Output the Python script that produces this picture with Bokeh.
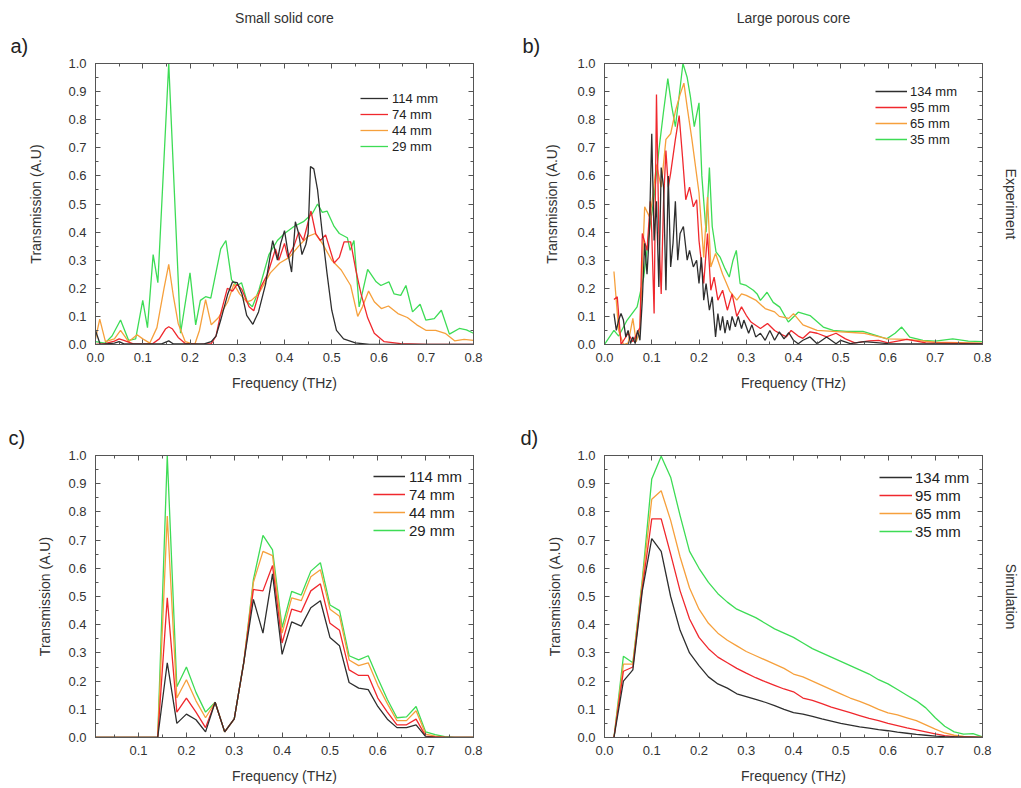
from bokeh.plotting import figure
from bokeh.models import (LinearAxis, FixedTicker, PrintfTickFormatter, Title,
                          Legend, LegendItem, Range1d)
from bokeh.layouts import column, row
from bokeh.embed import file_html
from bokeh.resources import INLINE

FONT = "Liberation Sans"
C_BLACK, C_RED, C_ORANGE, C_GREEN = "#2e2e2e", "#f0282d", "#f6a03c", "#3ddc55"
AX = "#555555"
TXT = "#333333"

# ---------------- data ----------------
# Panel a: experiment, small solid core  (frequency THz, transmission)
a_114 = [(0.0, 0.05), (0.01, 0.0), (0.04, 0.005), (0.05, 0.01), (0.06, 0.002), (0.14, 0.002),
         (0.155, 0.013), (0.165, 0.002), (0.23, 0.002), (0.245, 0.01), (0.255, 0.03), (0.265, 0.087),
         (0.28, 0.18), (0.29, 0.223), (0.3, 0.22), (0.31, 0.18), (0.32, 0.104), (0.333, 0.072),
         (0.345, 0.116), (0.36, 0.215), (0.375, 0.37), (0.385, 0.3), (0.392, 0.36), (0.4, 0.405),
         (0.41, 0.3), (0.415, 0.258), (0.423, 0.437), (0.43, 0.395), (0.437, 0.32), (0.445, 0.355),
         (0.45, 0.395), (0.455, 0.633), (0.462, 0.625), (0.47, 0.55), (0.48, 0.395), (0.49, 0.253),
         (0.5, 0.122), (0.51, 0.05), (0.525, 0.02), (0.55, 0.006), (0.58, 0.0), (0.8, 0.0)]
a_74 = [(0.0, 0.0), (0.02, 0.003), (0.04, 0.012), (0.05, 0.02), (0.06, 0.015), (0.08, 0.002),
        (0.12, 0.002), (0.135, 0.02), (0.148, 0.055), (0.155, 0.063), (0.163, 0.055), (0.175, 0.025),
        (0.19, 0.004), (0.22, 0.0), (0.245, 0.003), (0.255, 0.03), (0.265, 0.11), (0.279, 0.2),
        (0.29, 0.19), (0.3, 0.215), (0.31, 0.195), (0.325, 0.134), (0.335, 0.12), (0.35, 0.205),
        (0.364, 0.25), (0.381, 0.34), (0.388, 0.3), (0.4, 0.36), (0.407, 0.31), (0.42, 0.35),
        (0.43, 0.4), (0.44, 0.37), (0.456, 0.475), (0.466, 0.395), (0.476, 0.37), (0.487, 0.39),
        (0.505, 0.29), (0.516, 0.31), (0.526, 0.365), (0.54, 0.365), (0.551, 0.265), (0.562, 0.18),
        (0.576, 0.095), (0.59, 0.04), (0.611, 0.01), (0.646, 0.003), (0.7, 0.0), (0.8, 0.0)]
a_44 = [(0.0, 0.02), (0.009, 0.09), (0.021, 0.01), (0.04, 0.02), (0.053, 0.05), (0.07, 0.01),
        (0.088, 0.035), (0.1, 0.02), (0.115, 0.005), (0.13, 0.06), (0.145, 0.2), (0.155, 0.285),
        (0.165, 0.17), (0.175, 0.075), (0.19, 0.01), (0.21, 0.0), (0.22, 0.05), (0.233, 0.16),
        (0.245, 0.07), (0.26, 0.095), (0.28, 0.152), (0.293, 0.215), (0.305, 0.18), (0.32, 0.152),
        (0.33, 0.157), (0.345, 0.18), (0.37, 0.255), (0.39, 0.29), (0.41, 0.31), (0.43, 0.35),
        (0.45, 0.385), (0.465, 0.395), (0.48, 0.36), (0.5, 0.3), (0.52, 0.265), (0.54, 0.21),
        (0.555, 0.1), (0.565, 0.134), (0.578, 0.19), (0.59, 0.152), (0.605, 0.128), (0.62, 0.137),
        (0.64, 0.11), (0.66, 0.096), (0.68, 0.07), (0.7, 0.05), (0.72, 0.05), (0.74, 0.04),
        (0.76, 0.013), (0.78, 0.018), (0.8, 0.015)]
a_29 = [(0.0, 0.01), (0.02, 0.005), (0.035, 0.03), (0.053, 0.087), (0.07, 0.015), (0.085, 0.02),
        (0.1, 0.157), (0.11, 0.06), (0.122, 0.32), (0.132, 0.22), (0.155, 1.0), (0.18, 0.04),
        (0.2, 0.255), (0.212, 0.07), (0.222, 0.157), (0.233, 0.17), (0.244, 0.165), (0.265, 0.34),
        (0.276, 0.37), (0.288, 0.23), (0.3, 0.21), (0.309, 0.22), (0.321, 0.152), (0.332, 0.134),
        (0.346, 0.195), (0.367, 0.32), (0.385, 0.37), (0.4, 0.395), (0.42, 0.42), (0.44, 0.437),
        (0.459, 0.466), (0.47, 0.5), (0.48, 0.47), (0.49, 0.475), (0.505, 0.42), (0.516, 0.395),
        (0.533, 0.38), (0.539, 0.335), (0.547, 0.37), (0.558, 0.134), (0.576, 0.267), (0.594, 0.223),
        (0.604, 0.21), (0.621, 0.223), (0.632, 0.18), (0.646, 0.175), (0.657, 0.21), (0.671, 0.116),
        (0.687, 0.143), (0.699, 0.087), (0.717, 0.092), (0.732, 0.122), (0.749, 0.037), (0.77, 0.057),
        (0.785, 0.052), (0.8, 0.04)]

# Panel b: experiment, large porous core
b_134 = [(0.02, 0.11), (0.025, 0.05), (0.03, 0.087), (0.035, 0.11), (0.04, 0.087), (0.045, 0.027),
         (0.05, 0.05), (0.055, 0.003), (0.06, 0.027), (0.065, 0.003), (0.07, 0.05), (0.075, 0.015),
         (0.08, 0.158), (0.085, 0.36), (0.09, 0.25), (0.095, 0.4), (0.1, 0.75), (0.105, 0.37),
         (0.11, 0.51), (0.115, 0.205), (0.12, 0.63), (0.125, 0.56), (0.13, 0.193), (0.135, 0.6),
         (0.14, 0.276), (0.145, 0.36), (0.15, 0.51), (0.155, 0.3), (0.16, 0.395), (0.167, 0.42),
         (0.175, 0.3), (0.18, 0.335), (0.188, 0.276), (0.195, 0.3), (0.2, 0.217), (0.205, 0.31),
         (0.21, 0.158), (0.215, 0.217), (0.222, 0.122), (0.228, 0.17), (0.235, 0.027), (0.24, 0.11),
         (0.245, 0.05), (0.25, 0.1), (0.255, 0.04), (0.26, 0.087), (0.265, 0.05), (0.27, 0.1),
         (0.277, 0.063), (0.283, 0.1), (0.29, 0.057), (0.295, 0.087), (0.305, 0.04), (0.312, 0.07),
         (0.32, 0.027), (0.33, 0.04), (0.34, 0.015), (0.35, 0.05), (0.36, 0.015), (0.37, 0.045),
         (0.38, 0.02), (0.39, 0.042), (0.4, 0.015), (0.41, 0.003), (0.42, 0.015), (0.435, 0.027),
         (0.45, 0.003), (0.47, 0.027), (0.49, 0.003), (0.5, 0.015), (0.52, 0.003), (0.55, 0.01),
         (0.6, 0.003), (0.8, 0.002)]
b_95 = [(0.02, 0.16), (0.027, 0.17), (0.035, 0.0), (0.05, 0.04), (0.06, 0.01), (0.075, 0.06),
        (0.08, 0.395), (0.09, 0.335), (0.097, 0.51), (0.1, 0.4), (0.105, 0.11), (0.11, 0.89),
        (0.115, 0.4), (0.12, 0.18), (0.125, 0.51), (0.13, 0.69), (0.135, 0.56), (0.14, 0.61),
        (0.15, 0.73), (0.158, 0.815), (0.165, 0.67), (0.172, 0.515), (0.18, 0.56), (0.188, 0.49),
        (0.195, 0.515), (0.2, 0.37), (0.21, 0.217), (0.218, 0.395), (0.225, 0.193), (0.232, 0.24),
        (0.24, 0.158), (0.25, 0.193), (0.26, 0.122), (0.27, 0.18), (0.28, 0.1), (0.29, 0.134),
        (0.3, 0.104), (0.31, 0.08), (0.33, 0.057), (0.345, 0.075), (0.36, 0.05), (0.37, 0.04),
        (0.385, 0.027), (0.395, 0.05), (0.41, 0.03), (0.42, 0.022), (0.435, 0.045), (0.45, 0.04),
        (0.47, 0.027), (0.49, 0.04), (0.51, 0.02), (0.53, 0.006), (0.56, 0.013), (0.58, 0.015),
        (0.6, 0.006), (0.64, 0.018), (0.68, 0.006), (0.8, 0.003)]
b_65 = [(0.02, 0.26), (0.03, 0.05), (0.04, 0.0), (0.05, 0.005), (0.06, 0.093), (0.067, 0.01),
        (0.075, 0.05), (0.085, 0.49), (0.095, 0.455), (0.1, 0.5), (0.11, 0.64), (0.12, 0.56),
        (0.13, 0.73), (0.14, 0.75), (0.15, 0.83), (0.16, 0.89), (0.168, 0.93), (0.175, 0.845),
        (0.185, 0.73), (0.2, 0.54), (0.21, 0.31), (0.218, 0.525), (0.225, 0.276), (0.235, 0.324),
        (0.25, 0.25), (0.265, 0.19), (0.28, 0.158), (0.29, 0.18), (0.3, 0.175), (0.32, 0.158),
        (0.34, 0.128), (0.36, 0.116), (0.37, 0.1), (0.39, 0.093), (0.4, 0.11), (0.42, 0.07),
        (0.45, 0.05), (0.5, 0.045), (0.55, 0.04), (0.6, 0.02), (0.64, 0.018), (0.7, 0.008), (0.8, 0.005)]
b_35 = [(0.0, 0.0), (0.02, 0.05), (0.03, 0.03), (0.048, 0.087), (0.069, 0.134), (0.083, 0.24),
        (0.094, 0.395), (0.104, 0.51), (0.115, 0.69), (0.125, 0.83), (0.134, 0.946), (0.142, 0.85),
        (0.15, 0.775), (0.157, 0.87), (0.166, 1.0), (0.175, 0.95), (0.182, 0.88), (0.19, 0.775),
        (0.2, 0.86), (0.206, 0.6), (0.215, 0.4), (0.222, 0.63), (0.228, 0.42), (0.236, 0.33),
        (0.245, 0.31), (0.255, 0.27), (0.264, 0.24), (0.272, 0.3), (0.279, 0.335), (0.287, 0.217),
        (0.3, 0.21), (0.315, 0.193), (0.323, 0.18), (0.33, 0.157), (0.344, 0.186), (0.357, 0.15),
        (0.371, 0.133), (0.389, 0.08), (0.41, 0.115), (0.435, 0.103), (0.463, 0.062), (0.484, 0.05),
        (0.512, 0.047), (0.547, 0.047), (0.576, 0.032), (0.597, 0.02), (0.615, 0.04), (0.629, 0.062),
        (0.646, 0.026), (0.674, 0.015), (0.7, 0.012), (0.737, 0.02), (0.77, 0.012), (0.8, 0.01)]

# Panel c: simulation, small solid core
c_freq = [0.0, 0.02, 0.04, 0.06, 0.08, 0.1, 0.12, 0.14, 0.16, 0.18, 0.2, 0.22, 0.24, 0.26, 0.28,
          0.3, 0.32, 0.34, 0.36, 0.38, 0.4, 0.42, 0.44, 0.46, 0.48, 0.5, 0.52, 0.54, 0.56, 0.58,
          0.6, 0.62, 0.64, 0.66, 0.68, 0.7, 0.72, 0.74, 0.76, 0.78, 0.8]
c_114 = [0, 0, 0, 0, 0, 0, 0, 0, 0.265, 0.05, 0.083, 0.063, 0.02, 0.125, 0.02, 0.066, 0.267, 0.49,
         0.37, 0.58, 0.295, 0.41, 0.395, 0.46, 0.485, 0.355, 0.325, 0.195, 0.175, 0.17, 0.11, 0.065,
         0.035, 0.035, 0.045, 0.003, 0.0, 0.0, 0.0, 0.0, 0.0]
c_74 = [0, 0, 0, 0, 0, 0, 0, 0, 0.495, 0.09, 0.14, 0.09, 0.035, 0.125, 0.02, 0.066, 0.267, 0.525,
        0.52, 0.61, 0.335, 0.455, 0.445, 0.52, 0.545, 0.405, 0.38, 0.24, 0.22, 0.22, 0.14, 0.09,
        0.045, 0.045, 0.065, 0.005, 0.002, 0.0, 0.0, 0.0, 0.0]
c_44 = [0, 0, 0, 0, 0, 0, 0, 0, 0.785, 0.14, 0.205, 0.13, 0.07, 0.125, 0.02, 0.066, 0.267, 0.55,
        0.66, 0.645, 0.37, 0.495, 0.485, 0.57, 0.595, 0.455, 0.43, 0.275, 0.255, 0.265, 0.185, 0.12,
        0.06, 0.06, 0.095, 0.012, 0.005, 0.001, 0.0, 0.0, 0.0]
c_29 = [0, 0, 0, 0, 0, 0, 0, 0, 1.0, 0.18, 0.25, 0.16, 0.09, 0.125, 0.02, 0.066, 0.267, 0.56,
        0.717, 0.665, 0.39, 0.518, 0.505, 0.59, 0.62, 0.47, 0.45, 0.29, 0.275, 0.29, 0.21, 0.135,
        0.07, 0.073, 0.11, 0.02, 0.01, 0.003, 0.0, 0.0, 0.0]

# Panel d: simulation, large porous core
d_freq = [0.02, 0.04, 0.06, 0.08, 0.1, 0.12, 0.14, 0.16, 0.18, 0.2, 0.22, 0.24, 0.26, 0.28, 0.3,
          0.32, 0.34, 0.36, 0.38, 0.4, 0.42, 0.44, 0.46, 0.48, 0.5, 0.52, 0.54, 0.56, 0.58, 0.6,
          0.62, 0.64, 0.66, 0.68, 0.7, 0.72, 0.74, 0.76, 0.78, 0.8]
d_134 = [0, 0.2, 0.24, 0.52, 0.705, 0.66, 0.5, 0.38, 0.3, 0.255, 0.215, 0.19, 0.175, 0.155, 0.145,
         0.135, 0.125, 0.113, 0.1, 0.088, 0.083, 0.075, 0.066, 0.058, 0.05, 0.044, 0.038, 0.033,
         0.028, 0.024, 0.019, 0.015, 0.011, 0.008, 0.005, 0.003, 0.002, 0.001, 0.001, 0.0]
d_95 = [0, 0.235, 0.25, 0.53, 0.775, 0.775, 0.65, 0.52, 0.42, 0.355, 0.315, 0.285, 0.265, 0.245,
        0.228, 0.212, 0.198, 0.185, 0.172, 0.162, 0.14, 0.132, 0.12, 0.108, 0.098, 0.088, 0.078,
        0.068, 0.06, 0.05, 0.042, 0.034, 0.027, 0.02, 0.013, 0.007, 0.003, 0.002, 0.001, 0.0]
d_65 = [0, 0.26, 0.26, 0.55, 0.845, 0.875, 0.77, 0.64, 0.53, 0.455, 0.405, 0.37, 0.345, 0.325,
        0.305, 0.29, 0.275, 0.26, 0.245, 0.225, 0.215, 0.2, 0.185, 0.17, 0.155, 0.14, 0.128, 0.115,
        0.1, 0.087, 0.08, 0.07, 0.06, 0.045, 0.03, 0.016, 0.008, 0.004, 0.002, 0.0]
d_35 = [0, 0.288, 0.265, 0.56, 0.917, 0.997, 0.923, 0.787, 0.66, 0.6, 0.55, 0.51, 0.48, 0.455,
        0.44, 0.425, 0.405, 0.385, 0.37, 0.355, 0.335, 0.315, 0.3, 0.285, 0.27, 0.255, 0.24, 0.225,
        0.205, 0.19, 0.17, 0.15, 0.13, 0.105, 0.07, 0.04, 0.02, 0.012, 0.014, 0.002]

labels_small = ["114 mm", "74 mm", "44 mm", "29 mm"]
labels_large = ["134 mm", "95 mm", "65 mm", "35 mm"]
x_ticks_full = [0.0, 0.1, 0.2, 0.3, 0.4, 0.5, 0.6, 0.7, 0.8]
x_ticks_c = [0.1, 0.2, 0.3, 0.4, 0.5, 0.6, 0.7, 0.8]
x_minor = [0.05, 0.15, 0.25, 0.35, 0.45, 0.55, 0.65, 0.75]
y_ticks = [0.0, 0.1, 0.2, 0.3, 0.4, 0.5, 0.6, 0.7, 0.8, 0.9, 1.0]
y_minor = [0.05, 0.15, 0.25, 0.35, 0.45, 0.55, 0.65, 0.75, 0.85, 0.95]


def split(pairs):
    return [p[0] for p in pairs], [p[1] for p in pairs]


def style_axis(ax, ticks, minor, show_labels=True):
    ax.ticker = FixedTicker(ticks=ticks, minor_ticks=minor)
    ax.axis_line_color = AX
    ax.major_tick_line_color = AX
    ax.minor_tick_line_color = AX
    ax.major_tick_in = 5
    ax.major_tick_out = 0
    ax.minor_tick_in = 3
    ax.minor_tick_out = 0
    ax.major_label_text_font = FONT
    ax.major_label_text_font_size = "13px"
    ax.major_label_text_color = TXT
    ax.axis_label_text_font = FONT
    ax.axis_label_text_font_size = "14px"
    ax.axis_label_text_font_style = "normal"
    ax.axis_label_text_color = TXT
    if show_labels:
        ax.formatter = PrintfTickFormatter(format="%.1f")
    else:
        ax.major_label_overrides = {t: "" for t in ticks}
        ax.major_label_text_font_size = "0px"
        ax.major_label_standoff = 0


def make_panel(cfg, series, names):
    ox, oy, w, h = cfg["origin"][0], cfg["origin"][1], cfg["w"], cfg["h"]
    fl, ft, fr, fb = cfg["frame"]
    p = figure(width=w, height=h, x_range=Range1d(*cfg["xr"]), y_range=Range1d(0, 1),
               min_border_left=fl - ox, min_border_top=ft - oy,
               min_border_right=ox + w - fr, min_border_bottom=oy + h - fb,
               output_backend="svg", toolbar_location=None, tools="", title=None)
    p.xgrid.visible = False
    p.ygrid.visible = False
    p.outline_line_color = AX
    p.background_fill_color = "white"
    p.border_fill_color = "white"

    xt = cfg["xticks"]
    style_axis(p.xaxis[0], xt, x_minor)
    p.xaxis[0].axis_label = "Frequency (THz)"
    p.xaxis[0].major_label_standoff = 8
    p.xaxis[0].axis_label_standoff = 10
    style_axis(p.yaxis[0], y_ticks, y_minor)
    p.yaxis[0].axis_label = "Transmission (A.U)"
    p.yaxis[0].major_label_standoff = 9
    p.yaxis[0].axis_label_standoff = cfg["yas"]

    top = LinearAxis()
    style_axis(top, xt, x_minor, show_labels=False)
    p.add_layout(top, "above")
    right = LinearAxis()
    style_axis(right, y_ticks, y_minor, show_labels=False)
    if cfg.get("side"):
        right.axis_label = cfg["side"]
        right.axis_label_standoff = 20
    p.add_layout(right, "right")

    # panel letter (inner) and column title (outer) above the frame
    p.add_layout(Title(text=cfg["letter"], align="left", offset=cfg["letter_x"] - fl,
                       text_font=FONT, text_font_size="20px", text_font_style="normal",
                       text_color="#222222", standoff=14), "above")
    if cfg.get("title"):
        p.add_layout(Title(text=cfg["title"], align="center", text_font=FONT,
                           text_font_size="14px", text_font_style="normal",
                           text_color=TXT, standoff=0), "above")

    colors = [C_BLACK, C_RED, C_ORANGE, C_GREEN]
    rends = [None] * 4
    for i in [3, 2, 1, 0]:
        xs, ys = series[i]
        rends[i] = p.line(xs, ys, line_color=colors[i], line_width=1.3)

    lg = cfg["legend"]
    fh = (fb - ft)
    ytop = lg["top"] - ft
    loc = (lg["x"] - fl, fh - (ytop + 4 * lg["row"]))
    legend = Legend(items=[LegendItem(label=names[i], renderers=[rends[i]]) for i in range(4)],
                    location=loc, orientation="vertical", padding=0, margin=0, spacing=0,
                    glyph_width=lg["gw"], glyph_height=lg["row"], label_height=lg["row"],
                    label_standoff=lg["ls"], label_text_font=FONT,
                    label_text_font_size=lg["fs"], label_text_color="#222222",
                    border_line_alpha=0, background_fill_alpha=0)
    p.add_layout(legend)
    return p


cfg_a = dict(origin=(0, 0), w=510, h=400, frame=(95, 63, 473, 344), xr=(0.0, 0.8),
             xticks=x_ticks_full, yas=21, letter="a)", letter_x=10, title="Small solid core",
             legend=dict(x=360, top=90, row=16, gw=28, ls=4, fs="13px"))
cfg_b = dict(origin=(510, 0), w=511, h=400, frame=(604, 63, 983, 344), xr=(0.0, 0.8),
             xticks=x_ticks_full, yas=14, letter="b)", letter_x=522, title="Large porous core",
             side="Experiment",
             legend=dict(x=875, top=83, row=16, gw=32, ls=3, fs="13px"))
cfg_c = dict(origin=(0, 400), w=510, h=388, frame=(95, 455, 473, 737), xr=(0.01, 0.8),
             xticks=x_ticks_c, yas=12, letter="c)", letter_x=8,
             legend=dict(x=373, top=467, row=18, gw=32, ls=4, fs="15px"))
cfg_d = dict(origin=(510, 400), w=511, h=388, frame=(604, 455, 983, 737), xr=(0.0, 0.8),
             xticks=x_ticks_full, yas=11, letter="d)", letter_x=520, side="Simulation",
             legend=dict(x=879, top=468, row=18, gw=33, ls=3, fs="15px"))

pa = make_panel(cfg_a, [split(a_114), split(a_74), split(a_44), split(a_29)], labels_small)
pb = make_panel(cfg_b, [split(b_134), split(b_95), split(b_65), split(b_35)], labels_large)
pc = make_panel(cfg_c, [(c_freq, c_114), (c_freq, c_74), (c_freq, c_44), (c_freq, c_29)], labels_small)
pd = make_panel(cfg_d, [(d_freq, d_134), (d_freq, d_95), (d_freq, d_65), (d_freq, d_35)], labels_large)

layout = column(row(pa, pb, spacing=0), row(pc, pd, spacing=0), spacing=0)
open("out.html", "w").write(file_html(layout, INLINE))
